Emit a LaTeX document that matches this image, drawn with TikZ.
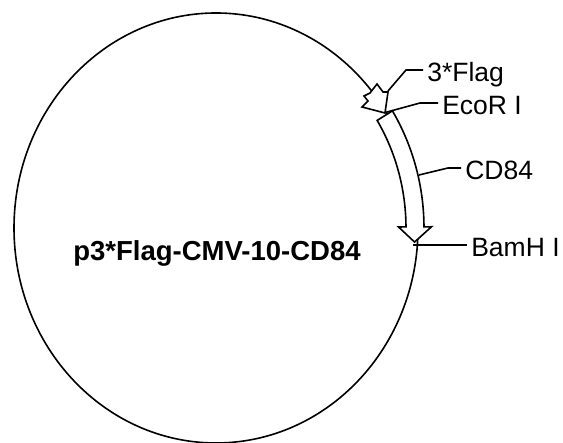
\documentclass[tikz,border=0pt]{standalone}
\usepackage{fontspec}
\setmainfont{Liberation Sans}
\usetikzlibrary{calc,math}

\tikzset{
    featlabel/.style={anchor=west, inner ysep=0pt, inner xsep=3.5pt, text height=24pt, text depth=0pt, font=\fontsize{26.5}{30}\selectfont},
    leader/.style={line width=1.6pt},
}

\begin{document}
\begin{tikzpicture}[x=1pt, y=1pt, line width=1.6pt]

    \tikzmath{\cx = 216; \cy = 215; \rx = 202; \ry = 215; \w = 9; \hw = 16.5;}
    \useasboundingbox (0,0) rectangle (563,443);

    % the plasmid backbone
    \draw (\cx,\cy) ellipse [x radius=\rx pt, y radius=\ry pt];
    \node[anchor=base, font=\fontsize{27.5}{30}\selectfont\bfseries] (plasmid) at (217,182) {p3*Flag-CMV-10-CD84};

    % CD84 insert, an arrow along the backbone
    \draw[fill=white] ({\cx+(\rx-3+\w)*cos(32)},{\cy+(\ry-3+\w)*sin(32)})
        arc[start angle=32, end angle=0.3, x radius=\rx-3+\w, y radius=\ry-3+\w]
        -- ({\cx+(\rx-3+\hw)*cos(0.3)},{\cy+(\ry-3+\hw)*sin(0.3)})
        -- ({\cx+(\rx-3)*cos(-3.8)},{\cy+(\ry-3)*sin(-3.8)})
        -- ({\cx+(\rx-3-\hw)*cos(0.3)},{\cy+(\ry-3-\hw)*sin(0.3)})
        -- ({\cx+(\rx-3-\w)*cos(0.3)},{\cy+(\ry-3-\w)*sin(0.3)})
        arc[start angle=0.3, end angle=32, x radius=\rx-3-\w, y radius=\ry-3-\w]
        -- cycle;

    % 3*Flag tag, a small arrow pointing back
    \draw[fill=white, line join=miter] (377,359) -- (383,351) -- (388,351) -- (385,330) -- (362,336)
        -- (368,342) -- (364,347) -- (370,350) -- cycle;

    % label points
    \coordinate (flag) at (388,352);
    \coordinate (ecor) at (387,331);
    \coordinate (cd) at (419,268);
    \coordinate (bamh) at (413,198);

    \node[featlabel] (flaglab) at (423,373) {3*Flag};
    \node[featlabel] (ecorlab) at (438,340) {EcoR I};
    \node[featlabel] (cdlab) at (461,275) {CD84};
    \node[featlabel] (bamhlab) at (467,198) {BamH I};

    \draw[leader] (flag) -- (406,373) -- (flaglab.west);
    \draw[leader] (ecor) -- (420,340) -- (ecorlab.west);
    \draw[leader] (cd) -- (448,275) -- (cdlab.west);
    \draw[leader] (bamh) -- (bamhlab.west);

\end{tikzpicture}
\end{document}
